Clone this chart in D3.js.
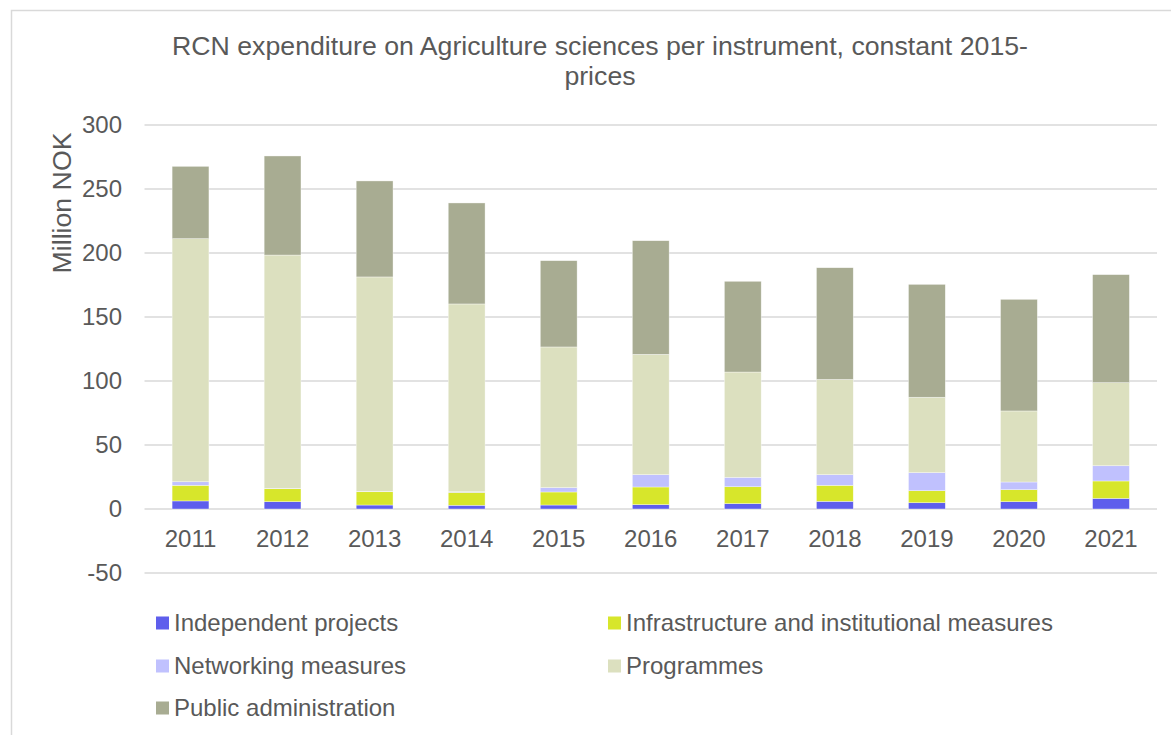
<!DOCTYPE html>
<html>
<head>
<meta charset="utf-8">
<script src="https://cdn.jsdelivr.net/npm/d3@7"></script>
<style>
  html, body { margin: 0; padding: 0; background: #fff; }
  svg { display: block; }
  text { font-family: "Liberation Sans", Arial, sans-serif; fill: #595959; }
</style>
</head>
<body>
<svg id="chart" width="1171" height="735"></svg>
<script>
const years = ["2011","2012","2013","2014","2015","2016","2017","2018","2019","2020","2021"];
const independentProjects = [6.3, 5.7, 3.1, 2.9, 3.1, 3.4, 4.2, 6.0, 4.9, 5.7, 8.3];
const infrastructure      = [12.2, 10.2, 10.4, 10.1, 10.2, 13.8, 13.2, 12.5, 9.4, 9.4, 13.6];
const networking          = [2.8, 0.3, 0.2, 0.5, 3.4, 9.6, 7.3, 8.3, 14.1, 6.0, 11.9];
const programmes          = [189.9, 182.2, 167.6, 146.7, 109.9, 94.0, 82.3, 74.4, 58.9, 55.5, 64.9];
const publicAdmin         = [56.5, 77.4, 75.0, 78.9, 67.4, 88.8, 70.9, 87.3, 88.2, 87.2, 84.4];
const seriesNames = ["Independent projects", "Infrastructure and institutional measures", "Networking measures", "Programmes", "Public administration"];
const seriesColors = ["#5E5EEC", "#D7E62B", "#C0C1FE", "#DCE0BF", "#A8AC92"];
const yTicks = [-50, 0, 50, 100, 150, 200, 250, 300];
const titleLines = ["RCN expenditure on Agriculture sciences per instrument, constant 2015-", "prices"];
const yAxisTitle = "Million NOK";

const seriesValues = [independentProjects, infrastructure, networking, programmes, publicAdmin];
const keys = seriesNames;
const table = years.map((y, i) => {
  const row = { year: y };
  keys.forEach((k, j) => row[k] = seriesValues[j][i]);
  return row;
});
const stacked = d3.stack().keys(keys)(table);

const svg = d3.select("#chart");

// frame
svg.append("rect")
  .attr("x", 11.5).attr("y", 10.5)
  .attr("width", 1200).attr("height", 760)
  .attr("fill", "none").attr("stroke", "#D9D9D9").attr("stroke-width", 1.5);

const x = d3.scaleBand().domain(years).range([144.5, 1157]).paddingInner(0.6).paddingOuter(0.3);
const y = d3.scaleLinear().domain([-50, 300]).range([573, 125]);

// gridlines
svg.append("g").selectAll("line").data(yTicks).join("line")
  .attr("x1", 144.5).attr("x2", 1157)
  .attr("y1", d => y(d)).attr("y2", d => y(d))
  .attr("stroke", "#D9D9D9").attr("stroke-width", 1.5);

// y axis labels
const yAxis = d3.axisLeft(y).tickValues(yTicks).tickSize(0).tickPadding(0)
  .tickFormat(d => String(d));
const gy = svg.append("g").attr("transform", "translate(122,0)").call(yAxis);
gy.select(".domain").remove();
gy.selectAll("text").attr("font-size", 24).style("font-family", '"Liberation Sans", Arial, sans-serif').attr("fill", "#595959");

// bars
svg.append("g").selectAll("g").data(stacked).join("g")
  .attr("fill", (d, i) => seriesColors[i])
  .selectAll("rect").data(d => d).join("rect")
  .attr("x", d => x(d.data.year))
  .attr("width", x.bandwidth())
  .attr("y", d => y(d[1]))
  .attr("height", d => y(d[0]) - y(d[1]))
  .attr("stroke", "#ffffff").attr("stroke-width", 0.6).attr("stroke-opacity", 0.6);

// x axis labels
const xAxis = d3.axisBottom(x).tickSize(0).tickPadding(0);
const gx = svg.append("g").attr("transform", "translate(0,529)").call(xAxis);
gx.select(".domain").remove();
gx.selectAll("text").attr("font-size", 24).attr("dy", "0.75em").style("font-family", '"Liberation Sans", Arial, sans-serif').attr("fill", "#595959");

// title
svg.append("text")
  .attr("x", 600).attr("y", 55)
  .attr("text-anchor", "middle").attr("font-size", 26.7)
  .selectAll("tspan").data(titleLines).join("tspan")
  .attr("x", 600).attr("dy", (d, i) => i === 0 ? 0 : 30)
  .text(d => d);

// y axis title
svg.append("text")
  .attr("transform", "translate(71,203) rotate(-90)")
  .attr("text-anchor", "middle").attr("font-size", 26.7)
  .text(yAxisTitle);

// legend
const legendPos = [
  { mx: 156, ty: 623 }, { mx: 608, ty: 623 },
  { mx: 156, ty: 666 }, { mx: 608, ty: 666 },
  { mx: 156, ty: 708 }
];
const lg = svg.append("g").selectAll("g").data(seriesNames).join("g")
  .attr("transform", (d, i) => `translate(${legendPos[i].mx},${legendPos[i].ty})`);
lg.append("rect").attr("x", 0).attr("y", -6.5).attr("width", 13).attr("height", 13)
  .attr("fill", (d, i) => seriesColors[i]);
lg.append("text").attr("x", 18).attr("y", 0).attr("dy", "0.35em")
  .attr("font-size", 24).text(d => d);
</script>
</body>
</html>
